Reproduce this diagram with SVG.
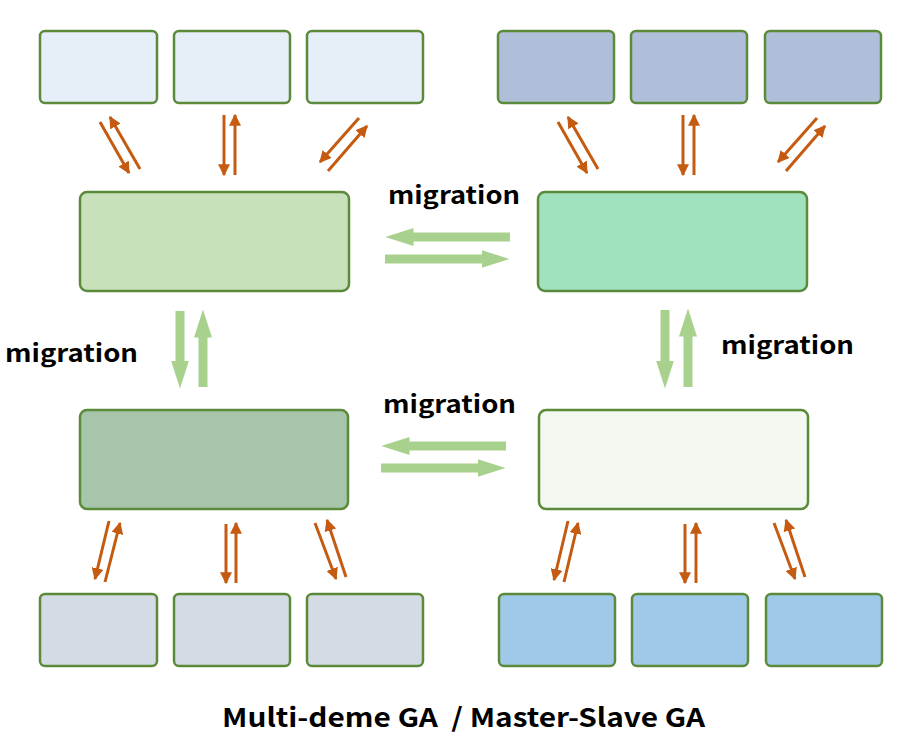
<svg xmlns="http://www.w3.org/2000/svg" width="900" height="753" viewBox="0 0 900 753">
<defs>
<style>
.b{stroke:#5B8A3A;stroke-width:2.5}
.o{stroke:#C55A11;stroke-width:3;fill:none;marker-end:url(#oh)}
.g{stroke:#A9D18E;stroke-width:9;fill:none;marker-end:url(#gh)}
.t{font-family:"Noto Sans CJK SC","Noto Sans","DejaVu Sans",sans-serif;font-weight:bold;fill:#000}
</style>
<marker id="oh" viewBox="0 0 10 10" refX="9" refY="5" markerWidth="4" markerHeight="4" orient="auto" markerUnits="strokeWidth"><path d="M0,0 L10,5 L0,10 Z" fill="#C55A11"/></marker>
<marker id="gh" viewBox="0 0 28 18" refX="0.5" refY="9" markerWidth="28" markerHeight="18" orient="auto" markerUnits="userSpaceOnUse"><path d="M0,0 L28,9 L0,18 Z" fill="#A9D18E"/></marker>
</defs>
<rect width="900" height="753" fill="#fff"/>
<g id="tl1"><rect class="b" x="40" y="31" width="117" height="72" rx="5" fill="#E6EEF8"/></g>
<g id="tl2"><rect class="b" x="174" y="31" width="116" height="72" rx="5" fill="#E6EEF8"/></g>
<g id="tl3"><rect class="b" x="307" y="31" width="116" height="72" rx="5" fill="#E6EEF8"/></g>
<g id="tr1"><rect class="b" x="498" y="31" width="116" height="72" rx="5" fill="#B0BFD9"/></g>
<g id="tr2"><rect class="b" x="631" y="31" width="116" height="72" rx="5" fill="#B0BFD9"/></g>
<g id="tr3"><rect class="b" x="765" y="31" width="116" height="72" rx="5" fill="#B0BFD9"/></g>
<g id="bl1"><rect class="b" x="40" y="594" width="117" height="72" rx="5" fill="#D5DBE5"/></g>
<g id="bl2"><rect class="b" x="174" y="594" width="116" height="72" rx="5" fill="#D5DBE5"/></g>
<g id="bl3"><rect class="b" x="307" y="594" width="116" height="72" rx="5" fill="#D5DBE5"/></g>
<g id="br1"><rect class="b" x="499" y="594" width="116" height="72" rx="5" fill="#A0C8E8"/></g>
<g id="br2"><rect class="b" x="632" y="594" width="116" height="72" rx="5" fill="#A0C8E8"/></g>
<g id="br3"><rect class="b" x="766" y="594" width="116" height="72" rx="5" fill="#A0C8E8"/></g>
<g id="mtl"><rect class="b" x="80" y="192" width="269" height="99" rx="7" fill="#C9E1BA"/></g>
<g id="mtr"><rect class="b" x="538" y="192" width="269" height="99" rx="7" fill="#A0E2BE"/></g>
<g id="mbl"><rect class="b" x="80" y="410" width="268" height="99" rx="7" fill="#A6C5AB"/></g>
<g id="mbr"><rect class="b" x="539" y="410" width="269" height="99" rx="7" fill="#F3F8F0"/></g>
<g id="connectors">
<line class="o" x1="100" y1="122" x2="129" y2="173"/>
<line class="o" x1="140" y1="169" x2="110" y2="117"/>
<line class="o" x1="224" y1="115" x2="224" y2="175"/>
<line class="o" x1="235" y1="175" x2="235" y2="115"/>
<line class="o" x1="359" y1="118" x2="320" y2="162"/>
<line class="o" x1="328" y1="171" x2="367" y2="126"/>
<line class="o" x1="558" y1="122" x2="587" y2="173"/>
<line class="o" x1="598" y1="169" x2="568" y2="117"/>
<line class="o" x1="683" y1="115" x2="683" y2="175"/>
<line class="o" x1="694" y1="175" x2="694" y2="115"/>
<line class="o" x1="817" y1="118" x2="778" y2="162"/>
<line class="o" x1="786" y1="171" x2="825" y2="126"/>
<line class="o" x1="109" y1="521" x2="95" y2="579"/>
<line class="o" x1="105" y1="582" x2="120" y2="523"/>
<line class="o" x1="226" y1="524" x2="226" y2="583"/>
<line class="o" x1="236" y1="583" x2="236" y2="523"/>
<line class="o" x1="315" y1="523" x2="336" y2="579"/>
<line class="o" x1="346" y1="577" x2="327" y2="520"/>
<line class="o" x1="568" y1="521" x2="554" y2="580"/>
<line class="o" x1="564" y1="582" x2="578" y2="523"/>
<line class="o" x1="685" y1="524" x2="685" y2="583"/>
<line class="o" x1="696" y1="583" x2="696" y2="523"/>
<line class="o" x1="774" y1="523" x2="795" y2="579"/>
<line class="o" x1="805" y1="577" x2="786" y2="520"/>
<line class="g" x1="510" y1="237" x2="413" y2="237"/>
<line class="g" x1="385" y1="259" x2="482" y2="259"/>
<line class="g" x1="506" y1="446" x2="409" y2="446"/>
<line class="g" x1="381" y1="468" x2="478" y2="468"/>
<line class="g" x1="180" y1="311" x2="180" y2="361"/>
<line class="g" x1="203" y1="387" x2="203" y2="337"/>
<line class="g" x1="665" y1="310" x2="665" y2="361"/>
<line class="g" x1="688" y1="387" x2="688" y2="336"/>
</g>
<g id="labels">
<text class="t" x="388" y="204" font-size="24" textLength="132" lengthAdjust="spacingAndGlyphs">migration</text>
<text class="t" x="5" y="362" font-size="24" textLength="133" lengthAdjust="spacingAndGlyphs">migration</text>
<text class="t" x="721" y="354" font-size="24" textLength="133" lengthAdjust="spacingAndGlyphs">migration</text>
<text class="t" x="383" y="413" font-size="24" textLength="133" lengthAdjust="spacingAndGlyphs">migration</text>
<text class="t" x="222" y="727" font-size="26" textLength="483" lengthAdjust="spacingAndGlyphs" xml:space="preserve">Multi-deme GA  / Master-Slave GA</text>
</g>
</svg>
